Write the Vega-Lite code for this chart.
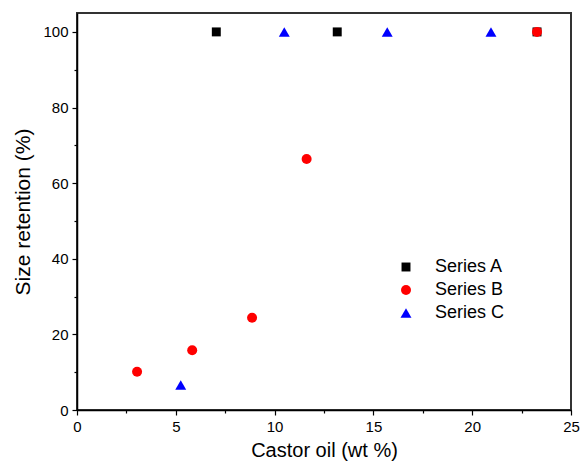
{
  "$schema": "https://vega.github.io/schema/vega-lite/v6.json",
  "autosize": "none",
  "width": 494,
  "height": 397,
  "padding": {"left": 77, "top": 13, "right": 11, "bottom": 60},
  "background": "white",
  "config": {
    "font": "Liberation Sans",
    "view": {"stroke": "#333333", "strokeWidth": 2}
  },
  "data": {
    "values": [
      {"series": "Series A", "x": 7.05, "y": 100},
      {"series": "Series A", "x": 13.17, "y": 100},
      {"series": "Series A", "x": 23.28, "y": 100},
      {"series": "Series B", "x": 3.04, "y": 10.1},
      {"series": "Series B", "x": 5.83, "y": 15.8},
      {"series": "Series B", "x": 8.86, "y": 24.4},
      {"series": "Series B", "x": 11.62, "y": 66.4},
      {"series": "Series B", "x": 23.28, "y": 100},
      {"series": "Series C", "x": 5.25, "y": 6.6},
      {"series": "Series C", "x": 10.49, "y": 100},
      {"series": "Series C", "x": 15.7, "y": 100},
      {"series": "Series C", "x": 20.95, "y": 100}
    ]
  },
  "mark": {"type": "point", "filled": true, "opacity": 1},
  "encoding": {
    "x": {
      "field": "x", "type": "quantitative",
      "scale": {"domain": [0, 25], "nice": false, "zero": false},
      "axis": {
        "title": "Castor oil (wt %)",
        "values": [0, 2.5, 5, 7.5, 10, 12.5, 15, 17.5, 20, 22.5, 25],
        "labelExpr": "datum.value % 5 == 0 ? datum.label : ''",
        "tickSize": {"condition": {"test": "datum.value % 5 == 0", "value": 5}, "value": 3},
        "grid": false,
        "domainColor": "black", "domainWidth": 1.5,
        "tickColor": "black", "tickWidth": 1.2,
        "labelFontSize": 15, "labelColor": "black", "labelPadding": 4,
        "titleFontSize": 20, "titleFontWeight": "normal", "titleColor": "black", "titlePadding": 6,
        "labelFlush": false
      }
    },
    "y": {
      "field": "y", "type": "quantitative",
      "scale": {"domain": [0, 105], "nice": false, "zero": false},
      "axis": {
        "title": "Size retention (%)",
        "values": [0, 10, 20, 30, 40, 50, 60, 70, 80, 90, 100],
        "labelExpr": "datum.value % 20 == 0 ? datum.label : ''",
        "tickSize": {"condition": {"test": "datum.value % 20 == 0", "value": 5}, "value": 3},
        "grid": false,
        "domainColor": "black", "domainWidth": 1.5,
        "tickColor": "black", "tickWidth": 1.2,
        "labelFontSize": 15, "labelColor": "black", "labelPadding": 4,
        "titleFontSize": 21, "titleFontWeight": "normal", "titleColor": "black", "titlePadding": 9,
        "labelFlush": false
      }
    },
    "color": {
      "field": "series", "type": "nominal",
      "scale": {"domain": ["Series A", "Series B", "Series C"], "range": ["#000000", "#ff0000", "#0000ff"]},
      "legend": {
        "title": null, "orient": "none", "legendX": 320, "legendY": 245,
        "labelFontSize": 18, "labelColor": "black", "labelOffset": 20,
        "rowPadding": 5, "symbolSize": 110, "symbolStrokeWidth": 0
      }
    },
    "shape": {
      "field": "series", "type": "nominal",
      "scale": {"domain": ["Series A", "Series B", "Series C"], "range": ["square", "circle", "triangle-up"]}
    },
    "size": {
      "field": "series", "type": "nominal",
      "scale": {"domain": ["Series A", "Series B", "Series C"], "range": [80, 120, 120]},
      "legend": null
    }
  }
}
